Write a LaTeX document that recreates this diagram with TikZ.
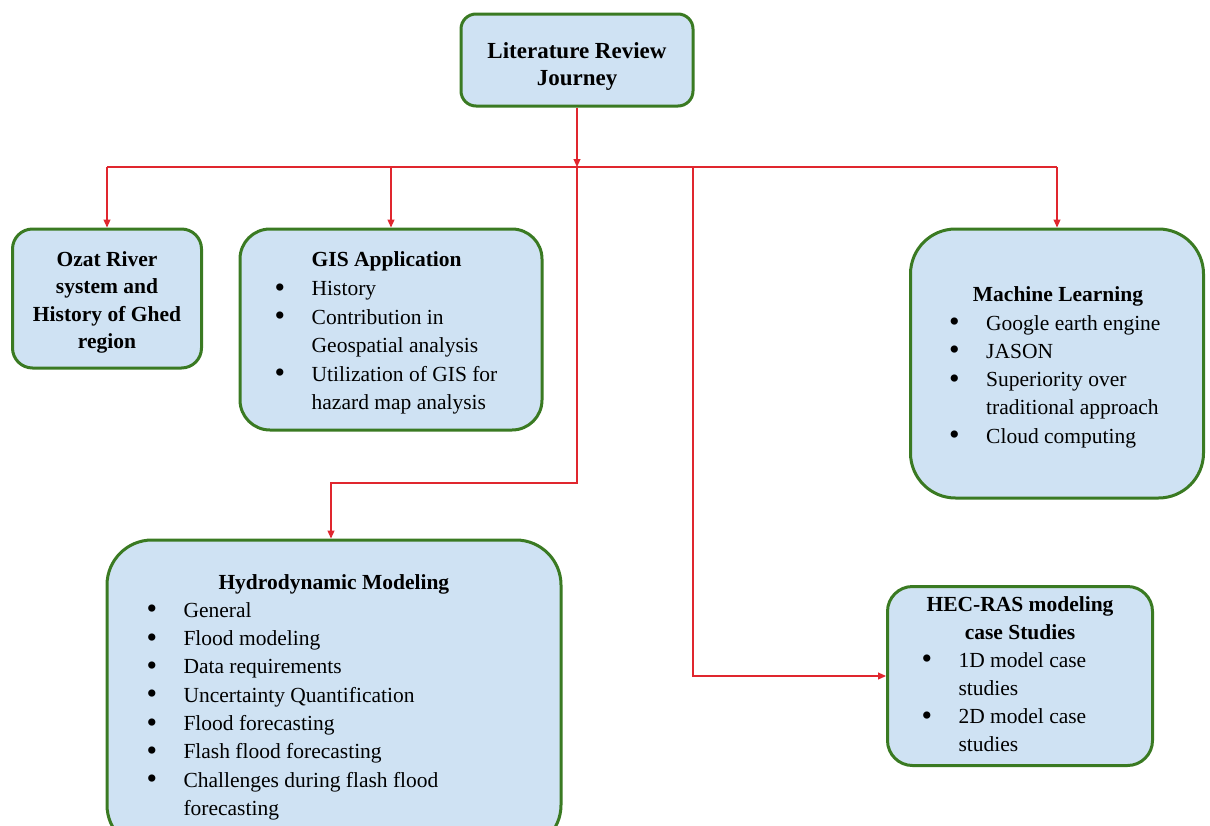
\documentclass[tikz,border=0pt]{standalone}
\usepackage{fontspec}
\usepackage{graphicx}
\setmainfont{Liberation Serif}
\usetikzlibrary{arrows.meta}
\definecolor{boxfill}{HTML}{CFE2F3}
\definecolor{boxdraw}{HTML}{3A7A22}
\definecolor{conn}{HTML}{E0262E}
\newcommand{\bul}{\raisebox{-1.6pt}{\scalebox{1.4}{\textbullet}}}
\tikzset{
  box/.style={rectangle, draw=boxdraw, fill=boxfill, line width=3pt, inner sep=0pt},
  txt/.style={inner sep=0pt, font=\fontsize{21.5}{28.3}\selectfont},
  ttl/.style={inner sep=0pt, font=\fontsize{21.5}{28.3}\selectfont\bfseries},
  link/.style={draw=conn, line width=1.1pt},
  arr/.style={link, -{Triangle[length=8pt,width=7pt]}}
}
\begin{document}
\begin{tikzpicture}[x=1pt,y=-1pt]
\useasboundingbox[fill=white] (0,0) rectangle (1210,825);
\begin{scope}
\clip (0,0) rectangle (1210,825);
% boxes
\node[box, rounded corners=15pt, minimum width=232pt, minimum height=92pt] (top) at (577,60) {};
\node[box, rounded corners=20pt, minimum width=189pt, minimum height=139pt] (ozat) at (107,298.5) {};
\node[box, rounded corners=30pt, minimum width=302pt, minimum height=201pt] (gis) at (391,329.5) {};
\node[box, rounded corners=45pt, minimum width=293pt, minimum height=269pt] (ml) at (1057,363.5) {};
\node[box, rounded corners=45pt, minimum width=454pt, minimum height=310pt] (hydro) at (334,695) {};
\node[box, rounded corners=25pt, minimum width=265pt, minimum height=179pt] (hec) at (1020,676) {};
\end{scope}

% texts
\node[ttl, anchor=base, font=\fontsize{23}{27}\selectfont\bfseries] (toptext) at (577,58.3)
  {\begin{tabular}[t]{@{}c@{}}Literature Review\\Journey\end{tabular}};

\node[ttl, anchor=base, font=\fontsize{21.5}{27.2}\selectfont\bfseries] (ozattext) at (107,266.7)
  {\begin{tabular}[t]{@{}c@{}}Ozat River\\system and\\History of Ghed\\region\end{tabular}};

\node[ttl, anchor=base west] (gistitle) at (311.5,266.7) {GIS Application};
\node[txt, anchor=base west, font=\fontsize{21.5}{28.5}\selectfont] (gislist) at (274.5,295.5)
  {\begin{tabular}[t]{@{}p{37pt}@{}l@{}}
  \bul & History\\
  \bul & Contribution in\\
       & Geospatial analysis\\
  \bul & Utilization of GIS for\\
       & hazard map analysis
  \end{tabular}};

\node[ttl, anchor=base west] (mltitle) at (972.7,301.7) {Machine Learning};
\node[txt, anchor=base west] (mllist) at (949,330)
  {\begin{tabular}[t]{@{}p{37pt}@{}l@{}}
  \bul & Google earth engine\\
  \bul & JASON\\
  \bul & Superiority over\\
       & traditional approach\\
  \bul & Cloud computing
  \end{tabular}};

\node[ttl, anchor=base west] (hydrotitle) at (218.3,589.3) {Hydrodynamic Modeling};
\node[txt, anchor=base west] (hydrolist) at (146.3,617.3)
  {\begin{tabular}[t]{@{}p{37pt}@{}l@{}}
  \bul & General\\
  \bul & Flood modeling\\
  \bul & Data requirements\\
  \bul & Uncertainty Quantification\\
  \bul & Flood forecasting\\
  \bul & Flash flood forecasting\\
  \bul & Challenges during flash flood\\
       & forecasting
  \end{tabular}};

\node[ttl, anchor=base, font=\fontsize{21.5}{28.2}\selectfont\bfseries] (hectitle) at (1020,611)
  {\begin{tabular}[t]{@{}c@{}}HEC-RAS modeling\\case Studies\end{tabular}};
\node[txt, anchor=base west, font=\fontsize{21.5}{28.2}\selectfont] (heclist) at (921.3,667.3)
  {\begin{tabular}[t]{@{}p{37pt}@{}l@{}}
  \bul & 1D model case\\
       & studies\\
  \bul & 2D model case\\
       & studies
  \end{tabular}};

% connectors
\coordinate (bus) at (577,167);
\coordinate (busL) at (107,167);
\coordinate (busG) at (391,167);
\coordinate (busR) at (1057,167);
\coordinate (busH) at (693,167);
\coordinate (hbend) at (577,483);
\coordinate (hjoin) at (331,483);

\draw[link] (busL) -- (busR);
\draw[arr] (top.south) -- (bus);
\draw[arr] (busL) -- (ozat.north);
\draw[arr] (busG) -- (gis.north);
\draw[arr] (busR) -- (ml.north);
\draw[arr] (bus) -- (hbend) -- (hjoin) -- (hjoin |- hydro.north);
\draw[arr] (busH) |- (hec.west);
\end{tikzpicture}
\end{document}
